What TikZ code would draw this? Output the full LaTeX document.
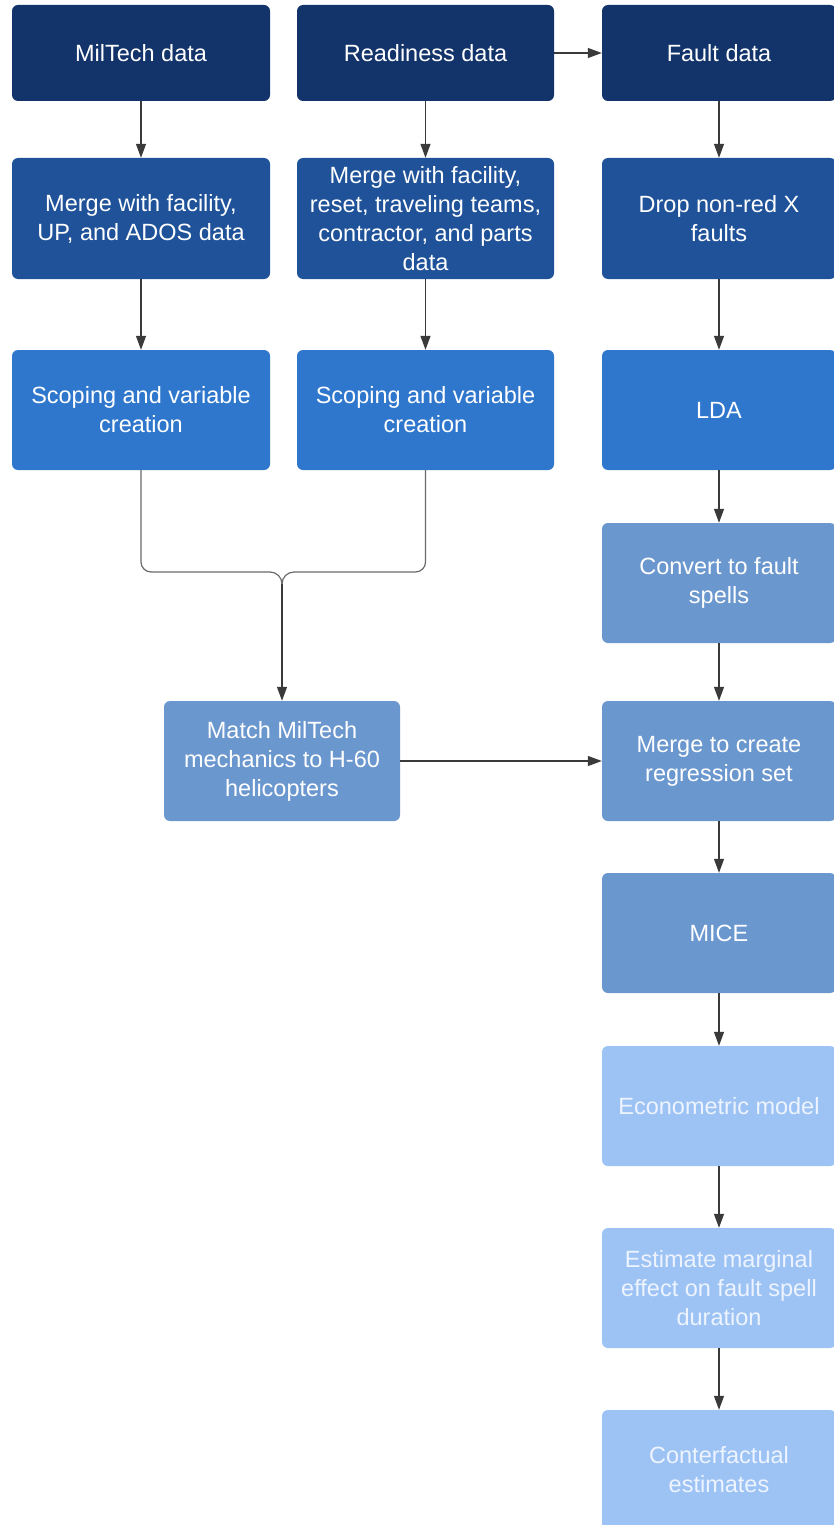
\documentclass[tikz,border=0pt]{standalone}
\usepackage{fontspec}
\setmainfont{Liberation Sans}
\usetikzlibrary{arrows.meta}
\definecolor{cA}{HTML}{13346A}
\definecolor{cB}{HTML}{1F5299}
\definecolor{cC}{HTML}{2F77CC}
\definecolor{cD}{HTML}{6B97CF}
\definecolor{cE}{HTML}{9DC3F5}
\definecolor{lineC}{HTML}{3A3A3A}
\definecolor{brC}{HTML}{6A6A6A}
\definecolor{ltext}{HTML}{EEF4FF}
\tikzset{
  box/.style={rectangle, rounded corners=6pt, inner sep=0pt, align=center,
    text=white, font=\fontsize{23.5pt}{29pt}\selectfont},
  colL/.style={minimum width=258pt},
  colM/.style={minimum width=257pt},
  colR/.style={minimum width=234pt},
  hA/.style={minimum height=96pt},
  hB/.style={minimum height=121pt},
  hC/.style={minimum height=120pt},
  conn/.style={draw=lineC, line width=1.2pt, -{Triangle[length=14pt,width=10pt]}},
  brk/.style={draw=brC, line width=1.2pt}
}
\begin{document}
\begin{tikzpicture}[x=1pt,y=-1pt]
\useasboundingbox (0,0) rectangle (833,1525);
\fill[white] (0,0) rectangle (833,1525);
% row 1
\node[box,colL,hA,fill=cA] (mil) at (141,53) {MilTech data};
\node[box,colM,hA,fill=cA] (rea) at (425.5,53) {Readiness data};
\node[box,colR,hA,fill=cA] (fau) at (719,53) {Fault data};
% row 2
\node[box,colL,hB,fill=cB] (mer1) at (141,218.5) {Merge with facility,\\UP, and ADOS data};
\node[box,colM,hB,fill=cB] (mer2) at (425.5,218.5) {Merge with facility,\\reset, traveling teams,\\contractor, and parts\\data};
\node[box,colR,hB,fill=cB] (drop) at (719,218.5) {Drop non-red X\\faults};
% row 3
\node[box,colL,hC,fill=cC] (sc1) at (141,410) {Scoping and variable\\creation};
\node[box,colM,hC,fill=cC] (sc2) at (425.5,410) {Scoping and variable\\creation};
\node[box,colR,hC,fill=cC] (lda) at (719,410) {LDA};
% right column
\node[box,colR,hC,fill=cD] (conv) at (719,583) {Convert to fault\\spells};
\node[box,hC,minimum width=236pt,fill=cD] (match) at (282,761) {Match MilTech\\mechanics to H-60\\helicopters};
\node[box,colR,hC,fill=cD] (reg) at (719,761) {Merge to create\\regression set};
\node[box,colR,hC,fill=cD] (mice) at (719,933) {MICE};
\node[box,colR,hC,fill=cE,text=ltext] (econ) at (719,1106) {Econometric model};
\node[box,colR,hC,fill=cE,text=ltext] (est) at (719,1288) {Estimate marginal\\effect on fault spell\\duration};
\node[box,colR,hC,fill=cE,text=ltext] (cnt) at (719,1470) {Conterfactual\\estimates};
% connectors
\draw[conn] (mil) -- (mer1);
\draw[conn] (rea) -- (mer2);
\draw[conn] (fau) -- (drop);
\draw[conn] (rea) -- (fau);
\draw[conn] (mer1) -- (sc1);
\draw[conn] (mer2) -- (sc2);
\draw[conn] (drop) -- (lda);
\draw[conn] (lda) -- (conv);
\draw[conn] (conv) -- (reg);
\draw[conn] (match) -- (reg);
\draw[conn] (reg) -- (mice);
\draw[conn] (mice) -- (econ);
\draw[conn] (econ) -- (est);
\draw[conn] (est) -- (cnt);
% bracket join
\coordinate (jn) at (282,584);
\coordinate (jl) at (270,572);
\coordinate (jr) at (294,572);
\draw[brk, rounded corners=10pt] (sc1.south) |- (jl);
\draw[brk] (jl) to[out=0,in=90] (jn);
\draw[brk, rounded corners=10pt] (sc2.south) |- (jr);
\draw[brk] (jr) to[out=180,in=90] (jn);
\draw[conn] (jn) -- (match.north);
\end{tikzpicture}
\end{document}
